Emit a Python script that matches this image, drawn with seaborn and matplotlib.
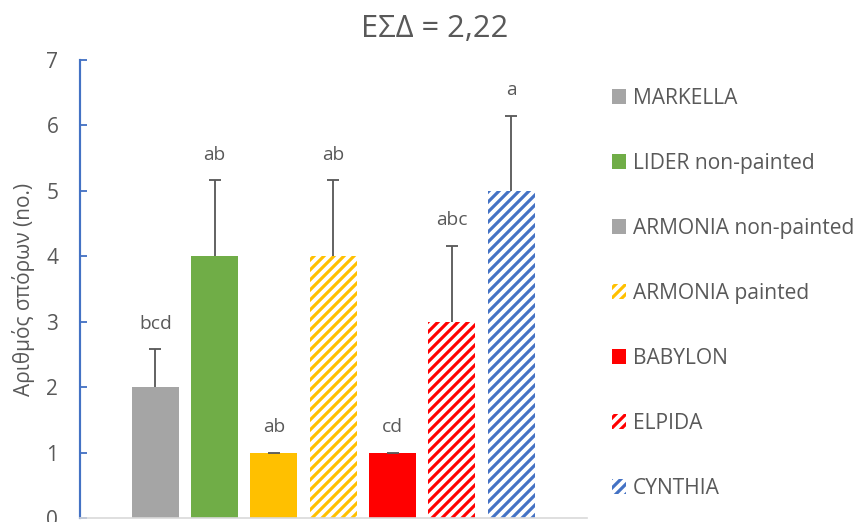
import matplotlib
matplotlib.use("Agg")
import matplotlib.pyplot as plt
from matplotlib.patches import Patch
import seaborn as sns
import pandas as pd

# Data
varieties = ["MARKELLA", "LIDER non-painted", "ARMONIA non-painted", "ARMONIA painted",
             "BABYLON", "ELPIDA", "CYNTHIA"]
seeds = [2, 4, 1, 4, 1, 3, 5]
errors = [0.58, 1.16, 0.0, 1.16, 0.0, 1.16, 1.15]
letters = ["bcd", "ab", "ab", "ab", "cd", "abc", "a"]
title_text = "ΕΣΔ = 2,22"
ylabel_text = "Αριθμός σπόρων (no.)"
yticks = [0, 1, 2, 3, 4, 5, 6, 7]

# Styling
bar_colors = ["#A5A5A5", "#70AD47", "#FFC000", "#FFC000", "#FF0000", "#FF0000", "#4472C4"]
hatched = [False, False, False, True, False, True, True]
legend_colors = ["#A5A5A5", "#70AD47", "#A5A5A5", "#FFC000", "#FF0000", "#FF0000", "#4472C4"]
text_color = "#595959"
stripe = "////"

sns.set_theme(style="white")
plt.rcParams["font.family"] = ["Open Sans", "DejaVu Sans"]
plt.rcParams["hatch.linewidth"] = 1.9

df = pd.DataFrame({"variety": varieties, "seeds": seeds})

fig = plt.figure(figsize=(855 / 120, 522 / 120), dpi=120)
ax = fig.add_axes([80 / 855, 1 - 518 / 522, (587 - 80) / 855, (518 - 60) / 522])

sns.barplot(data=df, x="variety", y="seeds", hue="variety", palette=bar_colors,
            legend=False, width=0.79, saturation=1, errorbar=None, ax=ax)

for patch, col, h in zip(ax.patches, bar_colors, hatched):
    patch.set_linewidth(0)
    if h:
        patch.set_facecolor("white")
        patch.set_edgecolor(col)
        patch.set_hatch(stripe)

# upper-only error bars (no cap at the bar top)
xpos = list(range(len(varieties)))
eb = ax.errorbar(xpos, seeds, yerr=[[0] * len(errors), errors], fmt="none",
                 ecolor=text_color, elinewidth=1.1, capsize=3.6, capthick=1.1, zorder=3)
eb[1][0].set_visible(False)

for x, v, e, lab in zip(xpos, seeds, errors, letters):
    ax.text(x, v + e + 0.39, lab, ha="center", va="center", fontsize=11.5, color=text_color)

ax.set_xlim(-1.27, 6 + 1.28)
ax.set_ylim(0, 7)
ax.set_yticks(yticks)
ax.set_xticks([])
ax.set_xlabel("")
ax.set_ylabel(ylabel_text, fontsize=12.5, color=text_color, labelpad=7)

for s in ["top", "right"]:
    ax.spines[s].set_visible(False)
ax.spines["left"].set_color("#4472C4")
ax.spines["left"].set_linewidth(1.3)
ax.spines["bottom"].set_color("#D9D9D9")
ax.spines["bottom"].set_linewidth(1.0)
ax.tick_params(axis="y", direction="in", length=4.2, width=1.1, color="#4472C4",
               labelsize=12.5, labelcolor=text_color, pad=13, left=True)

fig.text(435 / 855, 1 - 29 / 522, title_text, ha="center", va="center",
         fontsize=18.5, color=text_color)

handles = []
for col, h in zip(legend_colors, hatched):
    if h:
        handles.append(Patch(facecolor="white", edgecolor=col, hatch=stripe, linewidth=0))
    else:
        handles.append(Patch(facecolor=col, edgecolor=col, linewidth=0))
leg = fig.legend(handles, varieties, loc="upper left", bbox_to_anchor=(612 / 855, 1 - 88 / 522),
                 frameon=False, fontsize=12.6, handlelength=0.68, handleheight=0.68,
                 handletextpad=0.3, labelspacing=2.095, borderpad=0, borderaxespad=0)
for t in leg.get_texts():
    t.set_color(text_color)

fig.savefig("out.png", dpi=120)
